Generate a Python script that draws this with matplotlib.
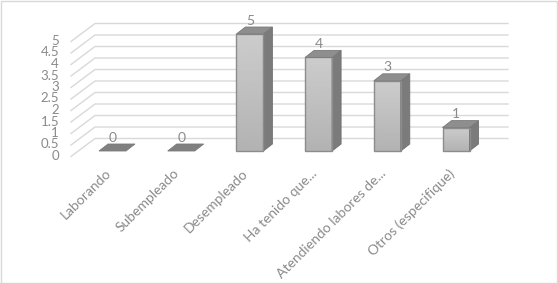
import matplotlib.pyplot as plt
import numpy as np
from matplotlib.patches import Polygon, Rectangle

categorias = ["Laborando", "Subempleado", "Desempleado", "Ha tenido que...",
              "Atendiendo labores de...", "Otros (especifique)"]
valores = [0, 0, 5, 4, 3, 1]
ticks_y = [0, 0.5, 1, 1.5, 2, 2.5, 3, 3.5, 4, 4.5, 5]
etiquetas_y = ["0", "0.5", "1", "1.5", "2", "2.5", "3", "3.5", "4", "4.5", "5"]

W, H = 558, 283
SLOT = 68.7      # px por categoria
UNIT = 23.4      # px por unidad
X0 = 112.5       # px del centro de la primera barra
Y0 = 132         # px (desde abajo) de la base de las barras

plt.rcParams['font.family'] = ['Lato', 'DejaVu Sans']
GRIS_TXT = "#8a8a8a"

fig = plt.figure(figsize=(W / 100, H / 100), dpi=100)
ax = fig.add_axes([0, 0, 1, 1])
ax.set_xlim((0 - X0) / SLOT, (W - X0) / SLOT)
ax.set_ylim((0 - Y0) / UNIT, (H - Y0) / UNIT)
ax.axis("off")

# profundidad de la pared y de las barras (en unidades de datos)
wall_dx, wall_dy = 24 / SLOT, 18 / UNIT
front_y = -5 / UNIT
wall_x0 = (95 - X0) / SLOT
wall_x1 = (508 - X0) / SLOT
bar_w = 27 / SLOT
bar_dx, bar_dy = 9 / SLOT, 7 / UNIT

# rejilla: pared lateral + pared de fondo
for v in ticks_y:
    yf = v * 23 / UNIT + front_y - 0.5 / UNIT
    yb = yf + wall_dy
    ax.plot([wall_x0 - wall_dx, wall_x0, wall_x1], [yf, yb, yb],
            color="#d9d9d9", lw=1.0, solid_joinstyle="miter", zorder=1)

for v, lab in zip(ticks_y, etiquetas_y):
    yf = v * 23 / UNIT + front_y
    ax.text(wall_x0 - wall_dx - 12 / SLOT, yf, lab, ha="right", va="center",
            fontsize=9.5, color=GRIS_TXT)

# gradiente para la cara frontal
grad = np.linspace(0.80, 0.70, 64).reshape(-1, 1)

for i, v in enumerate(valores):
    x0 = i - bar_w / 2
    x1 = i + bar_w / 2
    if v > 0:
        rect = Rectangle((x0, 0), bar_w, v, facecolor="none",
                         edgecolor="#8c8c8c", lw=1.0, zorder=4)
        ax.add_patch(rect)
        im = ax.imshow(grad, cmap="gray", vmin=0, vmax=1, aspect="auto",
                       extent=(x0, x1, 0, v), zorder=3)
        im.set_clip_path(rect)
        side = Polygon([(x1, 0), (x1, v), (x1 + bar_dx, v + bar_dy),
                        (x1 + bar_dx, bar_dy)], closed=True,
                       facecolor="#7b7b7b", edgecolor="#707070", lw=0.6, zorder=3)
        ax.add_patch(side)
        top_col = "#8e8e8e"
    else:
        top_col = "#808080"
    top = Polygon([(x0, v), (x1, v), (x1 + bar_dx, v + bar_dy),
                   (x0 + bar_dx, v + bar_dy)], closed=True,
                  facecolor=top_col, edgecolor="#7a7a7a", lw=0.6, zorder=4)
    ax.add_patch(top)
    ax.text(i, v + bar_dy + 0.02, str(v), ha="center", va="bottom",
            fontsize=10, color=GRIS_TXT, zorder=5)

# etiquetas de categoria
for i, c in enumerate(categorias):
    ax.text(i - 8 / SLOT, -16 / UNIT, c, rotation=45, rotation_mode="anchor",
            ha="right", va="top", fontsize=10, color=GRIS_TXT)

# borde del grafico
fig.patches.append(Rectangle((0.5 / W, 0.5 / H), 1 - 1.5 / W, 1 - 1.5 / H,
                             transform=fig.transFigure, fill=False,
                             edgecolor="#d9d9d9", lw=1.0))

fig.savefig("out.png", dpi=100)
